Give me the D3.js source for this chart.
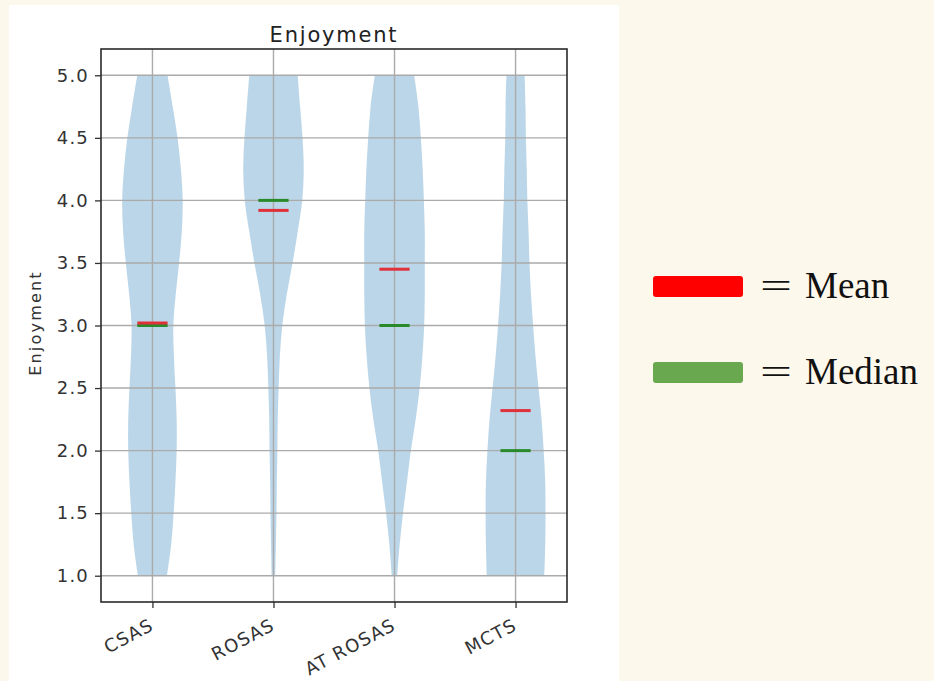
<!DOCTYPE html>
<html>
<head>
<meta charset="utf-8">
<script src="https://cdn.jsdelivr.net/npm/d3@7"></script>
<style>
  body { margin: 0; background: #fdf8ec; }
  svg { display: block; }
</style>
</head>
<body>
<svg id="chart" width="934" height="681"></svg>
<script>
// categories and summary stats
const methods = ["CSAS", "ROSAS", "AT ROSAS", "MCTS"];
const means = [3.02, 3.92, 3.45, 2.32];
const medians = [3.0, 4.0, 3.0, 2.0];
const yTicks = [1.0, 1.5, 2.0, 2.5, 3.0, 3.5, 4.0, 4.5, 5.0];

// density levels (score) and relative violin width at each level (1 = widest)
const levels = [1.0, 1.25, 1.5, 1.75, 2.0, 2.25, 2.5, 2.75, 3.0, 3.25, 3.5, 3.75, 4.0, 4.25, 4.5, 4.75, 5.0];
const widthCSAS    = [0.48, 0.62, 0.70, 0.76, 0.80, 0.80, 0.76, 0.71, 0.69, 0.77, 0.88, 0.97, 1.00, 0.94, 0.83, 0.67, 0.50];
const widthROSAS   = [0.06, 0.08, 0.10, 0.11, 0.13, 0.14, 0.17, 0.21, 0.29, 0.44, 0.63, 0.80, 0.95, 1.00, 0.96, 0.88, 0.80];
const widthATROSAS = [0.09, 0.17, 0.28, 0.41, 0.54, 0.70, 0.83, 0.92, 0.98, 1.00, 1.00, 1.00, 0.97, 0.93, 0.87, 0.79, 0.65];
const widthMCTS    = [0.95, 0.98, 0.99, 0.98, 0.93, 0.86, 0.76, 0.66, 0.58, 0.51, 0.46, 0.43, 0.39, 0.37, 0.34, 0.33, 0.30];
const widths = [widthCSAS, widthROSAS, widthATROSAS, widthMCTS];

const svg = d3.select("#chart");

// white figure panel
svg.append("rect")
   .attr("x", 9).attr("y", 5)
   .attr("width", 610).attr("height", 676)
   .attr("fill", "#ffffff");

const plotLeft = 101, plotRight = 567, plotTop = 49, plotBottom = 602;

const x = d3.scaleLinear().domain([0.575, 4.425]).range([plotLeft, plotRight]);
const y = d3.scaleLinear().domain([0.79, 5.21]).range([plotBottom, plotTop]);

const g = svg.append("g");

// violins
const halfW = 0.25;
const area = d3.area()
  .curve(d3.curveCatmullRom)
  .y(d => y(d.v));

methods.forEach((m, i) => {
  const pts = levels.map((v, j) => ({ v: v, w: widths[i][j] }));
  g.append("path")
   .datum(pts)
   .attr("fill", "#1f77b4")
   .attr("fill-opacity", 0.3)
   .attr("d", area.x0(d => x(i + 1 - halfW * d.w)).x1(d => x(i + 1 + halfW * d.w)));
});

// grid on top
const grid = g.append("g").attr("stroke", "#aaaaaa").attr("stroke-width", 1.4);
yTicks.forEach(t => {
  grid.append("line")
      .attr("x1", plotLeft).attr("x2", plotRight)
      .attr("y1", y(t)).attr("y2", y(t));
});
methods.forEach((m, i) => {
  grid.append("line")
      .attr("x1", x(i + 1)).attr("x2", x(i + 1))
      .attr("y1", plotTop).attr("y2", plotBottom);
});

// mean & median markers
const mHalf = 0.125;
methods.forEach((m, i) => {
  g.append("line")
   .attr("x1", x(i + 1 - mHalf)).attr("x2", x(i + 1 + mHalf))
   .attr("y1", y(medians[i])).attr("y2", y(medians[i]))
   .attr("stroke", "#2a8a2a").attr("stroke-width", 3);
  g.append("line")
   .attr("x1", x(i + 1 - mHalf)).attr("x2", x(i + 1 + mHalf))
   .attr("y1", y(means[i])).attr("y2", y(means[i]))
   .attr("stroke", "#e0303a").attr("stroke-width", 3);
});

// axes
const yAxis = svg.append("g")
  .attr("transform", `translate(${plotLeft},0)`)
  .call(d3.axisLeft(y).tickValues(yTicks).tickFormat(d3.format(".1f")).tickSize(6).tickPadding(6));
yAxis.select(".domain").remove();
yAxis.selectAll("text")
  .attr("font-family", "DejaVu Sans").attr("font-size", 18)
  .attr("letter-spacing", 1.2).attr("fill", "#333");

const xAxis = svg.append("g")
  .attr("transform", `translate(0,${plotBottom})`)
  .call(d3.axisBottom(x).tickValues([1, 2, 3, 4]).tickFormat((d, i) => methods[i]).tickSize(6));
xAxis.select(".domain").remove();
xAxis.selectAll("text")
  .attr("font-family", "DejaVu Sans").attr("font-size", 18)
  .attr("letter-spacing", 1.2)
  .attr("fill", "#333")
  .attr("text-anchor", "end")
  .attr("x", 0).attr("y", 0).attr("dy", 0)
  .attr("transform", "translate(2,27) rotate(-28)");
svg.selectAll(".tick line").attr("stroke", "#333").attr("stroke-width", 1.3);

// frame
svg.append("rect")
   .attr("x", plotLeft).attr("y", plotTop)
   .attr("width", plotRight - plotLeft).attr("height", plotBottom - plotTop)
   .attr("fill", "none").attr("stroke", "#2a2a2a").attr("stroke-width", 1.6);

// titles
svg.append("text")
   .attr("x", (plotLeft + plotRight) / 2).attr("y", 42)
   .attr("text-anchor", "middle")
   .attr("font-family", "DejaVu Sans").attr("font-size", 21)
   .attr("letter-spacing", 1.8).attr("fill", "#222")
   .text("Enjoyment");

svg.append("text")
   .attr("transform", "translate(41,323) rotate(-90)")
   .attr("text-anchor", "middle")
   .attr("font-family", "DejaVu Sans").attr("font-size", 16)
   .attr("letter-spacing", 2.2).attr("fill", "#333")
   .text("Enjoyment");

// legend
const legendItems = [
  { label: "Mean", color: "#ff0000", y: 276 },
  { label: "Median", color: "#6aa84f", y: 362 }
];
const lg = svg.append("g");
legendItems.forEach(it => {
  lg.append("rect")
    .attr("x", 653).attr("y", it.y)
    .attr("width", 90).attr("height", 21).attr("rx", 3)
    .attr("fill", it.color);
  lg.append("text")
    .attr("x", 760).attr("y", it.y + 22)
    .attr("font-family", "Liberation Serif").attr("font-size", 36)
    .attr("textLength", 32).attr("lengthAdjust", "spacingAndGlyphs")
    .attr("fill", "#111")
    .text("=");
  lg.append("text")
    .attr("x", 805).attr("y", it.y + 22)
    .attr("font-family", "Liberation Serif").attr("font-size", 37)
    .attr("fill", "#111")
    .text(it.label);
});
</script>
</body>
</html>
